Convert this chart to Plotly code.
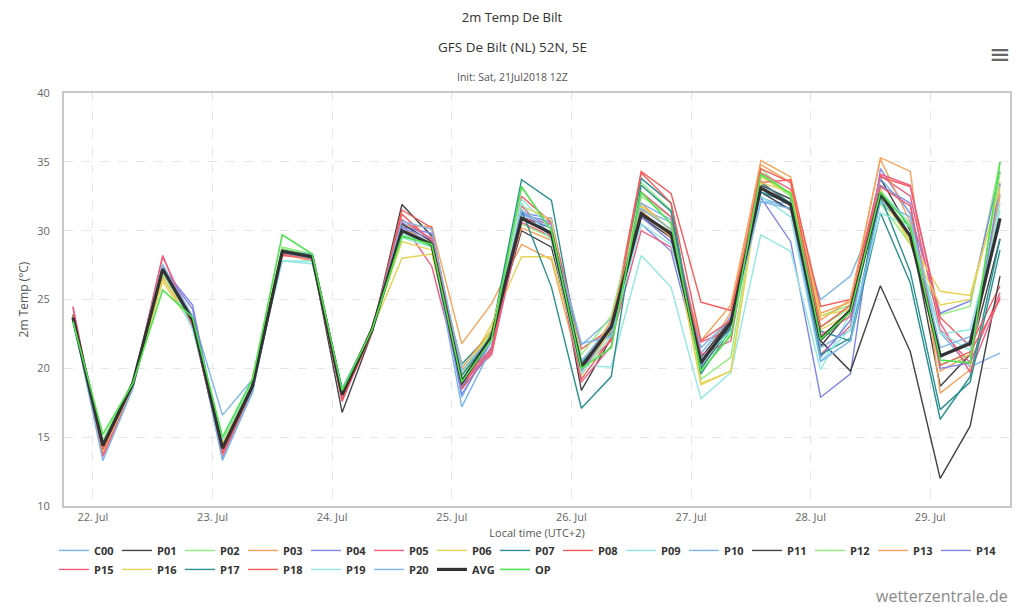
import pandas as pd
import plotly.graph_objects as go

times = pd.date_range("2018-07-21 20:00", periods=32, freq="6h")

C00 = [23.5,14.2,18.8,27.5,23.8,16.6,19.2,28.4,28.3,18.4,22.9,30.6,29.4,17.9,22.0,31.2,30.4,21.7,23.6,31.6,30.6,21.1,23.7,32.4,31.6,25.0,26.7,32.0,30.2,22.6,20.1,21.1]
P01 = [23.8,14.0,18.6,27.0,23.2,14.0,18.5,28.6,28.0,16.8,22.6,31.9,29.6,18.5,22.2,31.0,30.2,18.4,22.2,31.0,29.5,20.0,23.0,33.3,32.3,21.6,24.2,33.8,30.0,18.7,21.0,29.4]
P02 = [23.4,14.8,19.0,26.8,23.6,14.6,18.9,28.8,28.3,18.3,22.7,29.5,29.2,19.8,22.5,33.2,30.0,20.6,22.5,33.5,31.5,19.2,20.8,34.0,32.5,23.8,24.6,32.0,29.0,23.9,24.5,35.0]
P03 = [23.9,13.8,18.7,26.6,23.1,14.0,19.3,28.3,27.8,18.0,23.0,30.3,30.3,21.8,24.7,29.0,27.9,19.5,22.8,32.0,30.0,20.4,24.1,35.1,33.9,24.0,24.8,35.3,34.3,18.2,19.9,33.5]
P04 = [23.6,14.3,18.8,27.3,24.6,13.9,18.4,28.4,28.2,18.5,22.8,30.3,29.8,18.6,22.0,31.3,30.9,20.4,23.1,30.5,28.5,20.2,23.8,32.4,29.2,17.9,19.6,34.5,31.2,24.0,24.9,34.3]
P05 = [24.5,13.7,18.7,28.1,23.4,13.5,18.6,28.4,27.9,17.9,22.7,30.6,27.4,18.9,21.0,30.9,30.5,20.0,22.0,30.0,28.8,21.9,22.8,33.6,31.8,21.0,23.1,34.0,32.5,22.8,20.4,25.5]
P06 = [23.6,14.1,18.9,26.3,23.1,14.4,19.1,28.6,28.1,18.2,22.8,28.0,28.3,19.4,23.2,28.1,28.1,20.3,23.4,31.8,30.0,18.9,19.8,33.9,32.7,22.8,24.0,32.5,29.3,25.6,25.3,33.0]
P07 = [23.5,14.5,18.9,27.1,23.6,14.3,18.8,28.5,28.3,18.2,22.9,29.6,29.0,20.3,22.6,33.7,32.2,20.4,22.6,33.8,32.0,19.6,22.8,33.5,32.0,22.7,22.0,31.3,26.2,16.3,19.4,29.4]
P08 = [23.7,14.2,18.9,27.4,23.5,13.8,18.5,28.2,28.0,17.8,22.6,31.2,29.2,18.5,21.2,32.5,30.6,21.4,22.9,34.3,32.7,24.8,24.2,33.5,33.7,24.5,25.0,33.9,33.2,23.7,21.6,26.0]
P09 = [23.4,14.6,19.0,27.0,22.9,14.6,19.1,27.8,27.6,18.6,22.6,29.5,28.8,20.2,22.0,32.3,30.1,20.2,20.1,28.2,25.9,17.8,19.7,29.7,28.5,19.9,24.0,32.9,30.5,22.5,22.8,31.5]
P10 = [23.6,14.3,18.8,27.3,23.6,13.4,18.2,28.6,28.3,18.0,22.8,30.3,29.0,17.2,21.5,31.2,30.2,20.5,23.2,32.0,30.8,21.5,23.6,32.1,32.0,21.5,22.8,33.8,31.3,20.8,22.0,32.5]
P11 = [23.9,14.4,18.8,27.2,23.3,14.0,18.6,28.4,28.0,18.0,22.7,30.5,29.2,18.8,22.3,30.0,28.8,20.2,22.8,31.4,29.6,20.8,23.5,32.8,31.5,22.0,19.8,26.0,21.2,12.0,15.8,26.7]
P12 = [23.5,14.6,19.0,27.0,23.4,14.7,18.9,28.7,28.2,18.4,22.9,29.8,28.8,19.2,22.8,30.5,29.5,21.0,23.8,32.5,31.0,20.7,22.5,34.5,32.5,23.0,24.4,32.2,30.2,20.3,21.0,34.2]
P13 = [23.8,13.6,18.6,27.1,23.4,14.1,18.8,28.3,28.0,18.1,22.8,30.0,29.5,20.0,22.8,30.2,29.3,19.8,23.5,31.5,29.5,22.0,24.6,34.8,33.5,23.5,25.0,35.2,30.6,19.8,21.0,32.7]
P14 = [23.6,14.4,18.8,27.3,24.3,14.0,18.6,28.5,28.0,18.0,22.8,30.2,29.4,18.1,21.6,31.2,30.6,19.8,22.8,31.0,29.2,20.7,22.8,32.8,32.0,20.8,23.5,33.3,32.0,20.0,20.4,33.4]
P15 = [24.4,13.6,18.7,28.2,23.0,14.0,18.5,28.3,28.0,17.6,22.8,30.8,29.4,19.0,21.2,30.6,29.6,19.0,21.6,32.8,31.0,21.0,22.0,34.2,33.0,22.4,23.8,34.1,33.3,23.3,19.7,25.2]
P16 = [23.7,14.0,18.7,26.5,23.5,14.6,19.2,28.6,28.2,18.4,22.9,29.2,28.6,19.5,22.8,31.8,30.8,19.5,22.8,31.8,30.1,18.8,19.8,33.5,32.8,23.8,24.3,33.0,29.0,24.6,25.0,33.2]
P17 = [23.6,14.2,18.8,27.4,23.3,14.2,18.7,28.6,28.2,18.4,22.7,30.0,28.9,19.5,22.3,31.5,25.9,17.1,19.4,33.3,31.4,20.0,23.0,32.8,32.0,21.0,22.2,32.5,27.0,17.0,19.0,28.6]
P18 = [23.6,14.1,18.9,27.5,23.3,13.8,18.5,28.4,28.0,17.7,22.6,31.5,30.2,19.2,21.4,31.8,29.5,19.2,22.2,34.2,32.0,22.0,23.5,34.5,33.5,23.0,24.6,33.2,31.8,20.2,21.2,25.0]
P19 = [23.3,14.5,19.0,27.6,22.8,14.8,19.1,27.8,27.8,18.4,22.8,29.8,28.9,19.3,22.0,32.0,29.3,19.6,22.4,30.5,29.0,20.7,22.7,32.5,31.0,20.5,22.9,31.3,30.3,22.6,21.3,32.0]
P20 = [23.6,13.3,18.5,27.5,23.7,13.3,18.3,28.4,28.0,18.5,22.8,30.7,30.1,19.8,22.3,31.5,29.8,21.8,22.3,31.6,30.1,20.6,23.2,32.1,31.6,20.5,22.0,32.1,31.0,21.5,22.3,30.5]
AVG = [23.7,14.4,18.9,27.2,23.5,14.2,18.7,28.5,28.1,18.1,22.8,30.0,29.0,19.0,22.3,30.9,29.8,20.1,23.0,31.2,29.8,20.4,23.3,33.1,31.9,22.1,24.2,32.7,29.6,20.9,21.8,30.9]
OP = [23.4,15.2,18.9,25.7,23.7,15.0,19.2,29.7,28.3,18.4,22.8,29.6,29.0,19.0,22.1,33.2,30.0,20.0,21.5,32.8,30.5,19.8,22.4,34.1,32.7,22.1,24.1,32.8,30.3,20.6,20.4,35.0]

members = [("C00", C00), ("P01", P01), ("P02", P02), ("P03", P03), ("P04", P04),
           ("P05", P05), ("P06", P06), ("P07", P07), ("P08", P08), ("P09", P09),
           ("P10", P10), ("P11", P11), ("P12", P12), ("P13", P13), ("P14", P14),
           ("P15", P15), ("P16", P16), ("P17", P17), ("P18", P18), ("P19", P19),
           ("P20", P20)]
palette = ["#7cb5ec", "#434348", "#90ed7d", "#f7a35c", "#8085e9",
           "#f15c80", "#e4d354", "#2b908f", "#f45b5b", "#91e8e1"]

fig = go.Figure()
for k, (name, vals) in enumerate(members):
    fig.add_trace(go.Scatter(x=times, y=vals, name=name, mode="lines",
                             line=dict(color=palette[k % 10], width=1.4)))
fig.add_trace(go.Scatter(x=times, y=AVG, name="AVG", mode="lines",
                         line=dict(color="#333333", width=3.2)))
fig.add_trace(go.Scatter(x=times, y=OP, name="OP", mode="lines",
                         line=dict(color="#4ee44e", width=1.6)))

font_family = "Open Sans, sans-serif"

fig.update_layout(
    width=1024, height=607,
    margin=dict(l=56, r=22, t=85, b=109),
    paper_bgcolor="white", plot_bgcolor="white",
    font=dict(family=font_family, color="#666666", size=11),
    title=dict(text="2m Temp De Bilt", x=0.4922, xanchor="center", y=0.985, yanchor="middle",
               font=dict(size=13, color="#333333", family=font_family)),
    showlegend=True,
    legend=dict(orientation="h", x=-0.0106, xanchor="left", y=-0.0725, yanchor="top",
                font=dict(size=11, color="#333333", family=font_family, weight="bold"),
                entrywidth=18, entrywidthmode="pixels", itemwidth=30,
                tracegroupgap=0, bgcolor="rgba(0,0,0,0)"),
    annotations=[
        dict(text="GFS De Bilt (NL) 52N, 5E", xref="paper", yref="paper", x=0.4736, y=1.0,
             yshift=46, showarrow=False, xanchor="center", yanchor="middle",
             font=dict(size=13.5, color="#333333", family=font_family)),
        dict(text="Init: Sat, 21Jul2018 12Z", xref="paper", yref="paper", x=0.4736, y=1.0,
             yshift=16, showarrow=False, xanchor="center", yanchor="middle",
             font=dict(size=10.5, color="#555555", family=font_family)),
        dict(text="wetterzentrale.de", xref="paper", yref="paper", x=1.0, y=0.0,
             yshift=-90, xshift=0, showarrow=False, xanchor="right", yanchor="middle",
             font=dict(size=16, color="#8a8a8a", family=font_family)),
        dict(text="≡", xref="paper", yref="paper", x=1.0, y=1.0, xshift=-10,
             yshift=39, showarrow=False, xanchor="center", yanchor="middle",
             font=dict(size=26, color="#666666", family="DejaVu Sans, sans-serif")),
    ],
    xaxis=dict(
        type="date",
        range=["2018-07-21 18:12", "2018-07-29 16:00"],
        tick0="2018-07-22", dtick=86400000, tickformat="%d. %b",
        showgrid=True, gridcolor="#e6e6e6", griddash="dash", gridwidth=1,
        showline=True, mirror=True, linecolor="#c8c8c8", linewidth=2,
        ticks="", zeroline=False,
        tickfont=dict(size=11, color="#666666"),
        title=dict(text="Local time (UTC+2)", standoff=6,
                   font=dict(size=11, color="#555555")),
    ),
    yaxis=dict(
        range=[10, 40], dtick=5, tick0=10,
        showgrid=True, gridcolor="#e6e6e6", griddash="dash", gridwidth=1,
        showline=True, mirror=True, linecolor="#c8c8c8", linewidth=2,
        ticks="", zeroline=False, ticklabelstandoff=10,
        tickfont=dict(size=11, color="#666666"),
        title=dict(text="2m Temp (°C)", standoff=6,
                   font=dict(size=12, color="#555555")),
    ),
)

fig.write_html("out.html")
